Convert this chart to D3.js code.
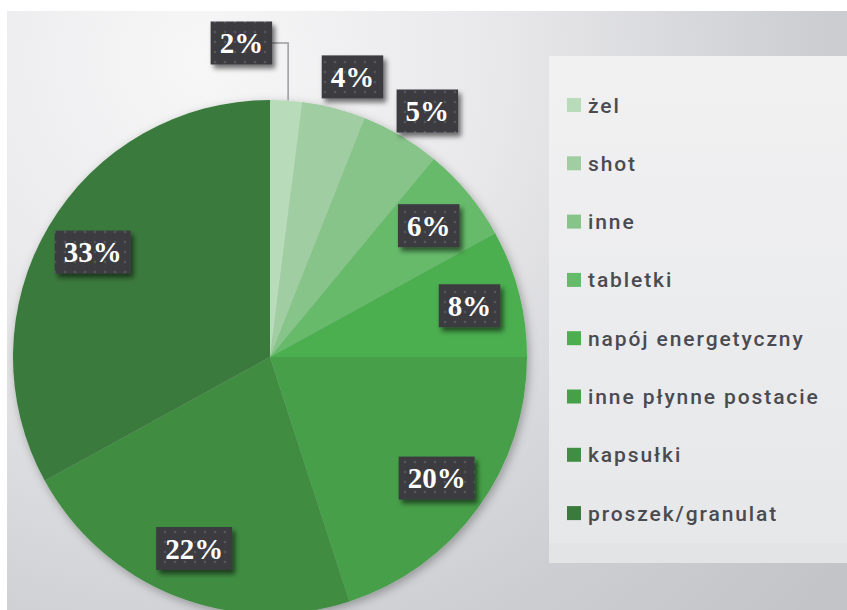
<!DOCTYPE html>
<html>
<head>
<meta charset="utf-8">
<script src="https://cdn.jsdelivr.net/npm/d3@7"></script>
<style>
  html, body { margin: 0; padding: 0; background: #fff; }
  svg { display: block; }
</style>
</head>
<body>
<div id="chart"></div>
<script>
// slice order is clockwise from 12 o'clock
const categories = ["żel", "shot", "inne", "tabletki", "napój energetyczny", "inne płynne postacie", "kapsułki", "proszek/granulat"];
const shares = [2, 4, 5, 6, 8, 20, 22, 33];
const colors = ["#b8dbb9", "#a0cea2", "#86c489", "#66ba6a", "#4cae50", "#46a049", "#418d43", "#3a7a3d"];

const width = 847, height = 610;
const cx = 270, cy = 357, R = 257;

const svg = d3.select("#chart").append("svg")
    .attr("width", width)
    .attr("height", height);

const defs = svg.append("defs");

const bg = defs.append("radialGradient")
    .attr("id", "bgGrad")
    .attr("gradientUnits", "userSpaceOnUse")
    .attr("cx", 200).attr("cy", 60).attr("r", 820);
bg.append("stop").attr("offset", 0).attr("stop-color", "#f7f7f8");
bg.append("stop").attr("offset", 0.35).attr("stop-color", "#e9e9eb");
bg.append("stop").attr("offset", 0.75).attr("stop-color", "#cdced2");
bg.append("stop").attr("offset", 1).attr("stop-color", "#c3c4c8");

const panelGrad = defs.append("linearGradient")
    .attr("id", "panelGrad")
    .attr("x1", 0).attr("y1", 0).attr("x2", 0).attr("y2", 1);
panelGrad.append("stop").attr("offset", 0).attr("stop-color", "#f1f1f2");
panelGrad.append("stop").attr("offset", 1).attr("stop-color", "#e6e7e9");

const pieShadow = defs.append("filter").attr("id", "pieShadow")
    .attr("x", "-10%").attr("y", "-10%").attr("width", "120%").attr("height", "120%");
pieShadow.append("feDropShadow")
    .attr("dx", 2).attr("dy", 3).attr("stdDeviation", 5)
    .attr("flood-color", "#000").attr("flood-opacity", 0.3);

const boxShadow = defs.append("filter").attr("id", "boxShadow")
    .attr("x", "-20%").attr("y", "-20%").attr("width", "150%").attr("height", "160%");
boxShadow.append("feDropShadow")
    .attr("dx", 3).attr("dy", 4).attr("stdDeviation", 2.5)
    .attr("flood-color", "#000").attr("flood-opacity", 0.55);

const dots = defs.append("pattern")
    .attr("id", "dots")
    .attr("patternUnits", "userSpaceOnUse")
    .attr("width", 10).attr("height", 10);
dots.append("rect").attr("width", 10).attr("height", 10).attr("fill", "#3a3b41");
dots.append("circle").attr("cx", 5).attr("cy", 5).attr("r", 1.3).attr("fill", "#55565d");

// backdrop
svg.append("rect")
    .attr("x", 7).attr("y", 11)
    .attr("width", width - 7).attr("height", height - 11)
    .attr("fill", "url(#bgGrad)");

// legend panel
svg.append("rect")
    .attr("x", 549).attr("y", 56)
    .attr("width", width - 549).attr("height", 507)
    .attr("fill", "url(#panelGrad)");
svg.append("rect")
    .attr("x", 549).attr("y", 543)
    .attr("width", width - 549).attr("height", 20)
    .attr("fill", "#e3e4e6");

// pie
const pie = d3.pie().sort(null).value(d => d)(shares);
const arc = d3.arc().innerRadius(0).outerRadius(R);
const color = d3.scaleOrdinal().domain(categories).range(colors);

const g = svg.append("g").attr("transform", `translate(${cx},${cy})`);

g.append("g")
    .attr("filter", "url(#pieShadow)")
    .selectAll("path")
    .data(pie)
    .join("path")
    .attr("d", arc)
    .attr("fill", (d, i) => color(categories[i]));

// label placement
const inner = d3.arc().innerRadius(206).outerRadius(206);
const outer = d3.arc().innerRadius(292).outerRadius(292);
const edge = d3.arc().innerRadius(R).outerRadius(R);

function labelPos(d) {
  if (d.value >= 6) return inner.centroid(d);
  if (d.value >= 3) {
    const nudge = 0.035;
    return outer.centroid({startAngle: d.startAngle + nudge, endAngle: d.endAngle + nudge});
  }
  return null;
}

const labels = g.append("g");

pie.forEach(d => {
  const txt = d.value + "%";
  const lg = labels.append("g");
  const t = lg.append("text")
      .attr("text-anchor", "middle")
      .attr("font-family", "Liberation Serif, Times New Roman, serif")
      .attr("font-weight", "bold")
      .attr("font-size", 29)
      .attr("fill", "#fff")
      .text(txt);
  const tw = t.node().getComputedTextLength();
  const bw = tw + 18, bh = 43;

  let px, py;
  const pos = labelPos(d);
  if (pos) {
    [px, py] = pos;
  } else {
    // callout with elbow leader line
    const [ex, ey] = edge.centroid(d);
    const elbowY = -R - 57;
    px = ex - 16 - bw / 2 + 2;
    py = elbowY;
    labels.insert("polyline", ":first-child")
        .attr("points", [[px + bw / 2, elbowY], [ex + 2, elbowY], [ex + 2, ey]].map(p => p.join(",")).join(" "))
        .attr("fill", "none")
        .attr("stroke", "#9a9ba0")
        .attr("stroke-width", 1.5);
  }

  lg.insert("rect", "text")
      .attr("x", px - bw / 2).attr("y", py - bh / 2)
      .attr("width", bw).attr("height", bh)
      .attr("fill", "url(#dots)")
      .attr("filter", "url(#boxShadow)");
  t.attr("x", px).attr("y", py + 10);
});

// legend
const legend = svg.append("g").attr("transform", "translate(567,105)");
const rowStep = 58.3;

const items = legend.selectAll("g")
    .data(categories)
    .join("g")
    .attr("transform", (d, i) => `translate(0,${i * rowStep})`);

items.append("rect")
    .attr("x", 0).attr("y", -7)
    .attr("width", 14).attr("height", 14)
    .attr("fill", d => color(d));

items.append("text")
    .attr("x", 21).attr("y", 7.5)
    .attr("font-family", "Roboto, sans-serif")
    .attr("font-weight", 500)
    .attr("font-size", 21)
    .attr("letter-spacing", 1.9)
    .attr("fill", "#4a4b50")
    .text(d => d);
</script>
</body>
</html>
